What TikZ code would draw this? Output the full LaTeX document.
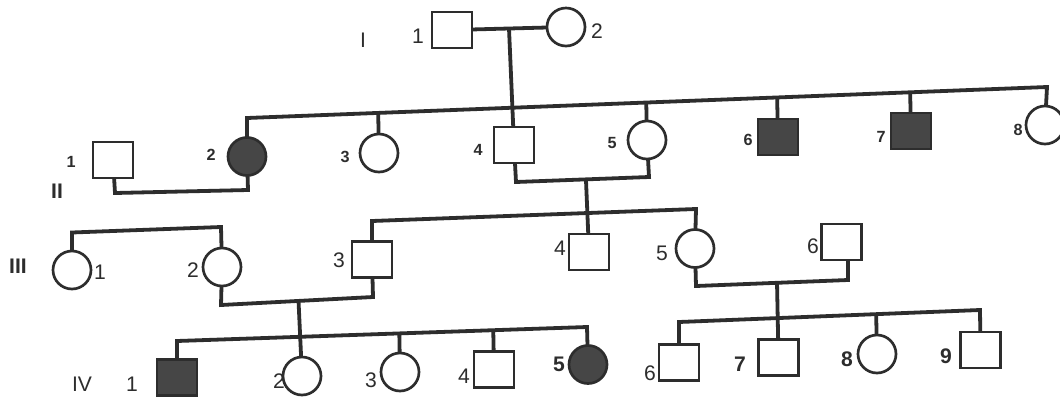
\documentclass[tikz,border=0pt]{standalone}
\usepackage{fontspec}
\setmainfont{Liberation Sans}
\usetikzlibrary{calc}
\definecolor{ink}{RGB}{45,45,45}
\definecolor{affc}{RGB}{70,70,70}
\begin{document}
\begin{tikzpicture}[x=0.025cm,y=-0.025cm,
  male/.style={draw=ink,line width=1.9pt,rectangle,minimum width=1cm,minimum height=0.9cm,inner sep=0pt,outer sep=0pt,fill=white},
  female/.style={draw=ink,line width=1.9pt,circle,minimum size=0.95cm,inner sep=0pt,outer sep=0pt,fill=white},
  affected/.style={fill=affc},
  link/.style={draw=ink,line width=2.7pt,line join=miter},
  lab/.style={font=\fontsize{15}{15}\selectfont,text=ink,inner sep=0pt},
  labb/.style={font=\fontsize{15}{15}\selectfont\bfseries,text=ink,inner sep=0pt},
  labs/.style={font=\fontsize{11.5}{12}\selectfont\bfseries,text=ink,inner sep=0pt},
  gen/.style={font=\fontsize{15}{15}\selectfont,text=ink,inner sep=0pt},
  genb/.style={font=\fontsize{15}{15}\selectfont\bfseries,text=ink,inner sep=0pt}]
\fill[white] (0,0) rectangle (1060,397);
\useasboundingbox (0,0) rectangle (1060,397);

% ---------- Generation I
\node[male]   (I1) at (452,30) {};
\node[female] (I2) at (566,27) {};
\node[gen] (gI) at (363,40) {I};
\node[lab] (lI1) at (418,36) {1};
\node[lab] (lI2) at (597,31) {2};

% ---------- Generation II
\node[male]   (II1) at (113,160) {};
\node[female,affected] (II2) at (247,156.5) {};
\node[female] (II3) at (379,153) {};
\node[male]   (II4) at (514,145) {};
\node[female] (II5) at (647,140) {};
\node[male,affected] (II6) at (778,137) {};
\node[male,affected] (II7) at (911,131) {};
\node[female] (II8) at (1045,125) {};
\node[genb] (gII) at (57,191) {II};
\node[labs] (lII1) at (71,162) {1};
\node[labs] (lII2) at (211,155) {2};
\node[labs] (lII3) at (345,157) {3};
\node[labs] (lII4) at (478,150) {4};
\node[labs] (lII5) at (612,143) {5};
\node[labs] (lII6) at (748,140) {6};
\node[labs] (lII7) at (881,137) {7};
\node[labs] (lII8) at (1018,130) {8};

% ---------- Generation III
\node[female] (III1) at (72,270) {};
\node[female] (III2) at (222,267) {};
\node[male]   (III3) at (372,259.5) {};
\node[male]   (III4) at (589,252) {};
\node[female] (III5) at (695,248.5) {};
\node[male]   (III6) at (841.5,242) {};
\node[genb] (gIII) at (18,266) {III};
\node[lab] (lIII1) at (100,272) {1};
\node[lab] (lIII2) at (193,270) {2};
\node[lab] (lIII3) at (339,260) {3};
\node[lab] (lIII4) at (560,248) {4};
\node[lab] (lIII5) at (662,253) {5};
\node[lab] (lIII6) at (813,246) {6};

% ---------- Generation IV
\node[male,affected] (IV1) at (177,377.5) {};
\node[female] (IV2) at (302,376) {};
\node[female] (IV3) at (400,372) {};
\node[male]   (IV4) at (494,369.5) {};
\node[female,affected] (IV5) at (588,364.5) {};
\node[male]   (IV6) at (679,362.5) {};
\node[male]   (IV7) at (778.5,357.5) {};
\node[female] (IV8) at (877,354) {};
\node[male]   (IV9) at (980.5,350) {};
\node[gen] (gIV) at (82,384) {IV};
\node[lab] (lIV1) at (132,384) {1};
\node[lab] (lIV2) at (279,381) {2};
\node[lab] (lIV3) at (371,380) {3};
\node[lab] (lIV4) at (464,376) {4};
\node[labb] (lIV5) at (559,364) {5};
\node[lab] (lIV6) at (650,373) {6};
\node[labb] (lIV7) at (740,364) {7};
\node[labb] (lIV8) at (847,359) {8};
\node[labb] (lIV9) at (946,356) {9};

% ---------- coordinates of line corners
\coordinate (mI) at ($(I1)!0.5!(I2)$);
\coordinate (sIIL) at (247,118);
\coordinate (sIIR) at (1047,87);
\coordinate (m12a) at (115,193);
\coordinate (m12b) at (248,190);
\coordinate (m45a) at (516,182);
\coordinate (m45b) at (649,177);
\coordinate (d45) at ($(m45a)!0.526!(m45b)$);
\coordinate (sIIIL) at (372,221);
\coordinate (sIIIR) at (696,209);
\coordinate (s3a) at (72,232.5);
\coordinate (s3b) at (221,227);
\coordinate (m23a) at (221,305);
\coordinate (m23b) at (373,297);
\coordinate (d23) at ($(m23a)!0.51!(m23b)$);
\coordinate (m56a) at (696,286);
\coordinate (m56b) at (848,280);
\coordinate (d56) at ($(m56a)!0.533!(m56b)$);
\coordinate (sIVL) at (177,341);
\coordinate (sIVLR) at (587,327);
\coordinate (sIVR1) at (679,322);
\coordinate (sIVR2) at (980,310);

% ---------- connectors
\draw[link] (I1) -- (I2);
\draw[link] (mI) -- (II4);
\draw[link] (II2) -- (sIIL) -- (sIIR) -- (II8);
\foreach \c in {II3,II5,II6,II7}
  \draw[link] (\c) -- ($(sIIL)!(\c.north)!(sIIR)$);
\draw[link] (II1) -- (m12a) -- (m12b) -- (II2);
\draw[link] (II4) -- (m45a) -- (m45b) -- (II5);
\draw[link] (d45) -- (III4);
\draw[link] (III3) -- (sIIIL) -- (sIIIR) -- (III5);
\draw[link] (III1) -- (s3a) -- (s3b) -- (III2);
\draw[link] (III2) -- (m23a) -- (m23b) -- (III3);
\draw[link] (III5) -- (m56a) -- (m56b) -- (m56b |- III6.south);
\draw[link] (d23) -- (IV2);
\draw[link] (d56) -- (IV7);
\draw[link] (IV1) -- (sIVL) -- (sIVLR) -- (IV5);
\foreach \c in {IV3,IV4}
  \draw[link] (\c) -- ($(sIVL)!(\c.north)!(sIVLR)$);
\draw[link] (IV6) -- (sIVR1) -- (sIVR2) -- (IV9);
\draw[link] (IV8) -- ($(sIVR1)!(IV8.north)!(sIVR2)$);
\end{tikzpicture}
\end{document}
